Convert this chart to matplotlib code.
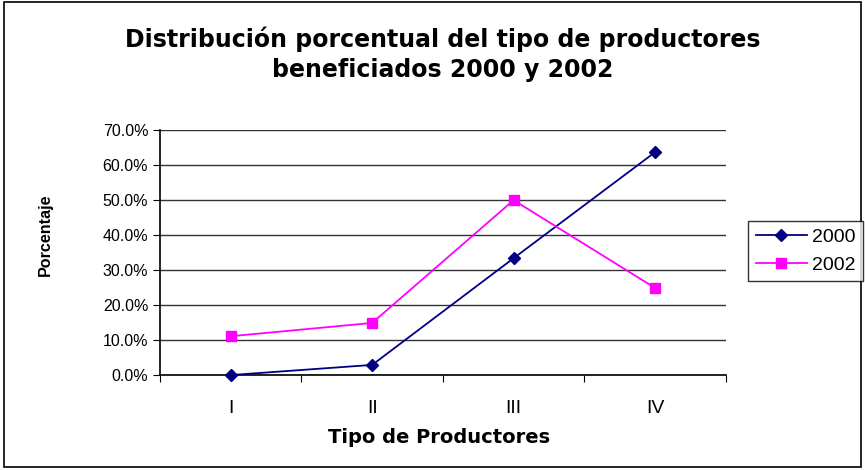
import matplotlib.pyplot as plt
from matplotlib.patches import Rectangle

categorias = ["I", "II", "III", "IV"]
serie_2000 = [0.0, 2.9, 33.4, 63.7]
serie_2002 = [11.1, 14.9, 50.0, 24.9]
y_ticks = [0, 10, 20, 30, 40, 50, 60, 70]

plt.rcParams['font.family'] = ['Liberation Sans', 'DejaVu Sans']

fig = plt.figure(figsize=(8.65, 4.70), dpi=100)
fig.patches.append(Rectangle((0.005, 0.006), 0.99, 0.99, transform=fig.transFigure,
                             fill=False, edgecolor="black", linewidth=1.2))

ax = fig.add_axes([0.185, 0.202, 0.654, 0.521])
x = range(1, len(categorias) + 1)

ax.plot(x, serie_2000, color="#000080", marker="D", markersize=6.5, linewidth=1.3,
        label="2000", clip_on=False, zorder=3)
ax.plot(x, serie_2002, color="#ff00ff", marker="s", markersize=6.5, linewidth=1.3,
        label="2002", clip_on=False, zorder=3)

ax.set_xlim(0.5, len(categorias) + 0.5)
ax.set_ylim(0, 70)
ax.set_yticks(y_ticks)
ax.set_yticklabels([f"{v:.1f}%" for v in y_ticks], fontsize=11.5)
ax.yaxis.grid(True, color="#333333", linewidth=1)
ax.set_axisbelow(True)

# category labels sit between the tick marks, like Excel
ax.set_xticks([i + 0.5 for i in range(len(categorias) + 1)])
ax.set_xticklabels([])
ax.set_xticks(list(x), minor=True)
ax.set_xticklabels(categorias, minor=True, fontsize=14)
ax.tick_params(axis="x", which="minor", length=0, pad=18)
ax.tick_params(axis="x", which="major", length=5, direction="out")
ax.tick_params(axis="y", length=5, direction="out")

for s in ["top", "right"]:
    ax.spines[s].set_visible(False)
ax.spines["left"].set_linewidth(1.2)
ax.spines["bottom"].set_linewidth(1.2)

ax.set_xlabel("Tipo de Productores", fontsize=14, fontweight="bold",
              family=["DejaVu Sans"], va="center")
ax.xaxis.set_label_coords(0.493, -0.253)
ax.set_ylabel("Porcentaje", fontsize=11.6, fontweight="bold", va="center")
ax.yaxis.set_label_coords(-0.203, 0.571)

fig.text(0.512, 0.885, "Distribución porcentual del tipo de productores\nbeneficiados 2000 y 2002",
         ha="center", va="center", fontsize=17, fontweight="bold",
         family=["DejaVu Sans"], linespacing=1.32)

leg = fig.legend(loc="upper left", bbox_to_anchor=(0.865, 0.53), fontsize=14,
                 frameon=True, fancybox=False, edgecolor="black", handlelength=2.6,
                 borderpad=0.4, labelspacing=0.5, handletextpad=0.26, borderaxespad=0)
leg.get_frame().set_linewidth(1)

fig.savefig("out.png", dpi=100)
